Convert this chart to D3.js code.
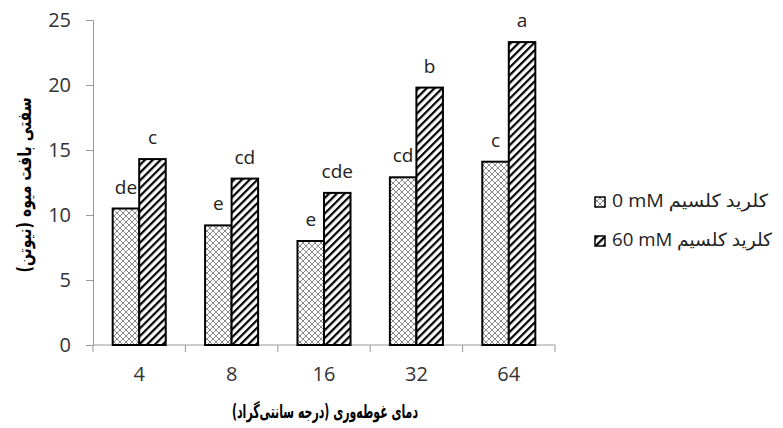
<!DOCTYPE html>
<html><head><meta charset="utf-8">
<script src="https://cdn.jsdelivr.net/npm/d3@7"></script>
<style>body{margin:0;background:#fff}svg{display:block}</style>
</head><body>
<svg id="c" width="783" height="428"></svg>
<script>
const categories = ["4","8","16","32","64"];
const seriesNames = ["0 mM کلرید کلسیم","60 mM کلرید کلسیم"];
const values0 = [10.5, 9.2, 8.0, 12.9, 14.1];
const values60 = [14.3, 12.8, 11.7, 19.8, 23.3];
const letters0 = ["de","e","e","cd","c"];
const letters60 = ["c","cd","cde","b","a"];
const yTicks = [0,5,10,15,20,25];
const yTitle = "سفتی بافت میوه (نیوتن)";
const xTitle = "دمای غوطه‌وری (درجه سانتی‌گراد)";

const svg = d3.select("#c");
const defs = svg.append("defs");
const cross = defs.append("pattern").attr("id","cross").attr("patternUnits","userSpaceOnUse")
  .attr("width",6).attr("height",6);
cross.append("rect").attr("width",6).attr("height",6).attr("fill","#fff");
cross.append("path").attr("d","M0,0L6,6M6,0L0,6M-1,5L1,7M5,-1L7,1M-1,1L1,-1M5,7L7,5")
  .attr("stroke","#8a8a8a").attr("stroke-width",1);
const diag = defs.append("pattern").attr("id","diag").attr("patternUnits","userSpaceOnUse")
  .attr("width",5.5).attr("height",5.5).attr("patternTransform","rotate(45)");
diag.append("rect").attr("width",5.5).attr("height",5.5).attr("fill","#fff");
diag.append("rect").attr("x",0).attr("y",0).attr("width",2.2).attr("height",5.5).attr("fill","#000");

const x0 = 93, x1 = 555, yTop = 20, yBot = 345;
const x = d3.scaleBand().domain(categories).range([x0,x1]).paddingInner(0.426).paddingOuter(0.213);
const xs = d3.scaleBand().domain([0,1]).range([0,x.bandwidth()]);
const y = d3.scaleLinear().domain([0,25]).range([yBot,yTop]);

const font = "'Open Sans', 'DejaVu Sans', sans-serif";
// y axis
const ya = svg.append("g").attr("transform",`translate(${x0},0)`)
  .call(d3.axisLeft(y).tickValues(yTicks).tickSize(7).tickPadding(15));
ya.select(".domain").attr("stroke","#999");
ya.selectAll(".tick line").attr("stroke","#999");
ya.selectAll("text").attr("font-family",font).attr("font-size",20).attr("fill","#333");

// x axis line & ticks at boundaries
svg.append("line").attr("x1",x0).attr("x2",x1).attr("y1",yBot).attr("y2",yBot).attr("stroke","#999");
const step = x.step();
const bounds = d3.range(categories.length+1).map(i => x0 + i*step);
svg.selectAll(".xt").data(bounds).enter().append("line")
  .attr("x1",d=>d).attr("x2",d=>d).attr("y1",yBot).attr("y2",yBot+7).attr("stroke","#999");
svg.selectAll(".xl").data(categories).enter().append("text")
  .attr("x",d=>x(d)+x.bandwidth()/2).attr("y",yBot+36).attr("text-anchor","middle")
  .attr("font-family",font).attr("font-size",20).attr("fill","#333").text(d=>d);

const series = [
  {vals: values0, letters: letters0, fill: "url(#cross)"},
  {vals: values60, letters: letters60, fill: "url(#diag)"}
];
series.forEach((s,si) => {
  const g = svg.append("g");
  g.selectAll("rect").data(categories).enter().append("rect")
    .attr("x",(d)=>x(d)+xs(si)).attr("width",xs.bandwidth())
    .attr("y",(d,i)=>y(s.vals[i])).attr("height",(d,i)=>yBot-y(s.vals[i]))
    .attr("fill",s.fill).attr("stroke","#000").attr("stroke-width",2);
  g.selectAll("text").data(categories).enter().append("text")
    .attr("x",(d)=>x(d)+xs(si)+xs.bandwidth()/2).attr("y",(d,i)=>y(s.vals[i])-15)
    .attr("text-anchor","middle").attr("font-family",font).attr("font-size",19).attr("fill","#222")
    .text((d,i)=>s.letters[i]);
});

// axis titles
svg.append("text").attr("transform","translate(25,185) rotate(-90)").attr("text-anchor","middle")
  .attr("font-family","'DejaVu Sans', sans-serif").attr("font-weight","bold").attr("font-size",19)
  .attr("dominant-baseline","middle").attr("direction","rtl")
  .attr("textLength",175).attr("lengthAdjust","spacingAndGlyphs").text(yTitle);
svg.append("text").attr("x",325).attr("y",418).attr("text-anchor","middle")
  .attr("font-family","'DejaVu Sans', sans-serif").attr("font-weight","bold").attr("font-size",19)
  .attr("direction","rtl").attr("textLength",186).attr("lengthAdjust","spacingAndGlyphs").text(xTitle);

// legend
const leg = svg.append("g");
const legY = [207, 246];
seriesNames.forEach((n,i) => {
  leg.append("rect").attr("x",595).attr("y",legY[i]-10).attr("width",10).attr("height",10)
    .attr("fill",series[i].fill).attr("stroke","#000").attr("stroke-width",1.5);
  leg.append("text").attr("x",612).attr("y",legY[i]).attr("font-family",font).attr("font-size",18)
    .attr("fill","#222").attr("direction","ltr")
    .attr("textLength", i === 0 ? 156 : 160).attr("lengthAdjust","spacingAndGlyphs").text(n);
});
</script>
</body></html>
